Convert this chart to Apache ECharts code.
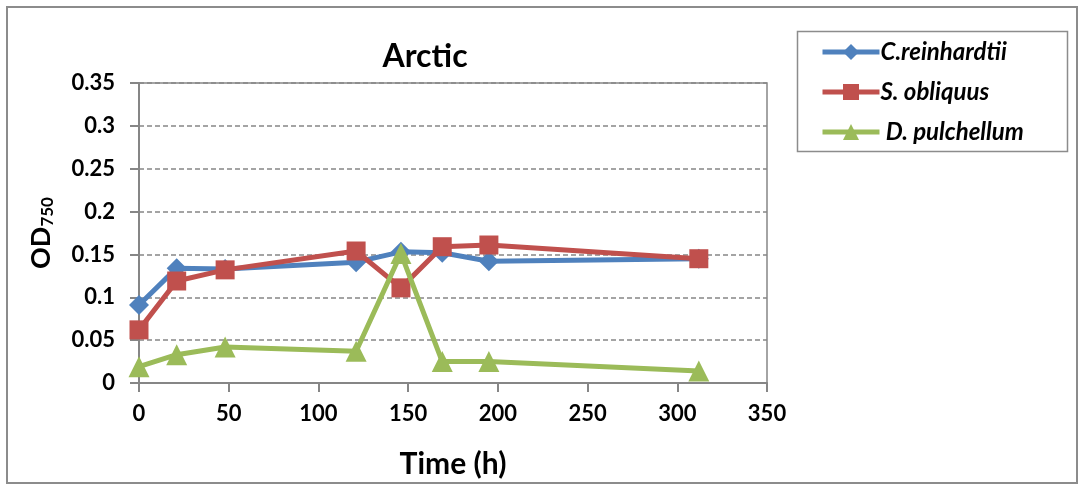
<!DOCTYPE html>
<html>
<head>
<meta charset="utf-8">
<script src="https://cdn.jsdelivr.net/npm/echarts@6/dist/echarts.min.js"></script>
<style>
html,body{margin:0;padding:0;background:#fff;}
#chart{width:1079px;height:485px;}
</style>
</head>
<body>
<div id="chart"></div>
<script>
const times = [0, 21, 48, 121, 146, 169, 195, 312];
const cReinhardtii = [0.091, 0.134, 0.133, 0.141, 0.153, 0.152, 0.142, 0.145];
const sObliquus = [0.062, 0.119, 0.132, 0.154, 0.111, 0.159, 0.161, 0.145];
const dPulchellum = [0.019, 0.033, 0.042, 0.037, 0.151, 0.025, 0.025, 0.014];
const seriesNames = ['C.reinhardtii', 'S. obliquus', ' D. pulchellum'];
const titleText = 'Arctic';
const xName = 'Time (h)';

const FONT = 'Lato, "Liberation Sans", sans-serif';
const pair = (vals) => times.map((t, i) => [t, vals[i]]);

const chart = echarts.init(document.getElementById('chart'), null, {renderer: 'canvas'});
const axisColor = '#868686';
chart.setOption({
  animation: false,
  backgroundColor: '#fff',
  textStyle: {fontFamily: FONT},
  title: {
    text: titleText, left: 420, top: 36, textAlign: 'center',
    textStyle: {fontFamily: FONT, fontWeight: 'bold', fontSize: 32, color: '#000'}
  },
  graphic: [
    {type: 'rect', shape: {x: 7, y: 7, width: 1070, height: 476},
     style: {fill: null, stroke: '#8c8c8c', lineWidth: 2}, silent: true},
    {type: 'rect', shape: {x: 797.5, y: 31.5, width: 270, height: 120},
     style: {fill: '#fff', stroke: '#8c8c8c', lineWidth: 1.5}, silent: true, z: 1}
  ],
  legend: {
    orient: 'vertical', left: 820, top: 40, itemWidth: 57, itemHeight: 20, itemGap: 16,
    z: 10, padding: 0,
    lineStyle: {width: 5},
    textStyle: {fontFamily: FONT, fontWeight: 'bold', fontStyle: 'italic', fontSize: 24, lineHeight: 24, color: '#000', padding: [0,0,0,-4]},
    data: seriesNames
  },
  grid: {left: 139, right: 312, top: 83, bottom: 102, show: true, borderColor: axisColor, borderWidth: 1.5},
  xAxis: {
    type: 'value', min: 0, max: 350, interval: 50,
    name: xName, nameLocation: 'middle', nameGap: 66,
    nameTextStyle: {fontFamily: FONT, fontWeight: 'bold', fontSize: 30, color: '#000'},
    axisLine: {show: true, lineStyle: {color: axisColor, width: 2}},
    axisTick: {show: true, inside: false, length: 9, lineStyle: {color: axisColor, width: 2}},
    axisLabel: {fontFamily: FONT, fontWeight: 'bold', fontSize: 22, color: '#000', margin: 20},
    splitLine: {show: false}
  },
  yAxis: {
    type: 'value', min: 0, max: 0.35, interval: 0.05,
    name: '{a|OD}{b|750}', nameLocation: 'middle', nameGap: 82, nameRotate: 90,
    nameTextStyle: {
      rich: {
        a: {fontFamily: FONT, fontWeight: 'bold', fontSize: 27, color: '#000', lineHeight: 32},
        b: {fontFamily: FONT, fontWeight: 'bold', fontSize: 17, color: '#000', lineHeight: 32, padding: [14, 0, 0, 0]}
      }
    },
    axisLine: {show: true, lineStyle: {color: axisColor, width: 2}},
    axisTick: {show: true, inside: false, length: 9, lineStyle: {color: axisColor, width: 2}},
    axisLabel: {fontFamily: FONT, fontWeight: 'bold', fontSize: 22, color: '#000', margin: 24,
      formatter: v => String(+v.toFixed(2))},
    splitLine: {show: true, lineStyle: {color: axisColor, type: [5, 3], width: 1.5}}
  },
  series: [
    {name: seriesNames[0], type: 'line', data: pair(cReinhardtii), symbol: 'diamond', symbolSize: 20,
     color: '#4F81BD', lineStyle: {width: 5, color: '#4F81BD'}, itemStyle: {color: '#4F81BD'}, z: 2},
    {name: seriesNames[1], type: 'line', data: pair(sObliquus), symbol: 'rect', symbolSize: 19,
     color: '#C0504D', lineStyle: {width: 5, color: '#C0504D'}, itemStyle: {color: '#C0504D'}, z: 3},
    {name: seriesNames[2], type: 'line', data: pair(dPulchellum), symbol: 'triangle', symbolSize: 21,
     color: '#9BBB59', lineStyle: {width: 5, color: '#9BBB59'}, itemStyle: {color: '#9BBB59'}, z: 4}
  ]
});
</script>
</body>
</html>
